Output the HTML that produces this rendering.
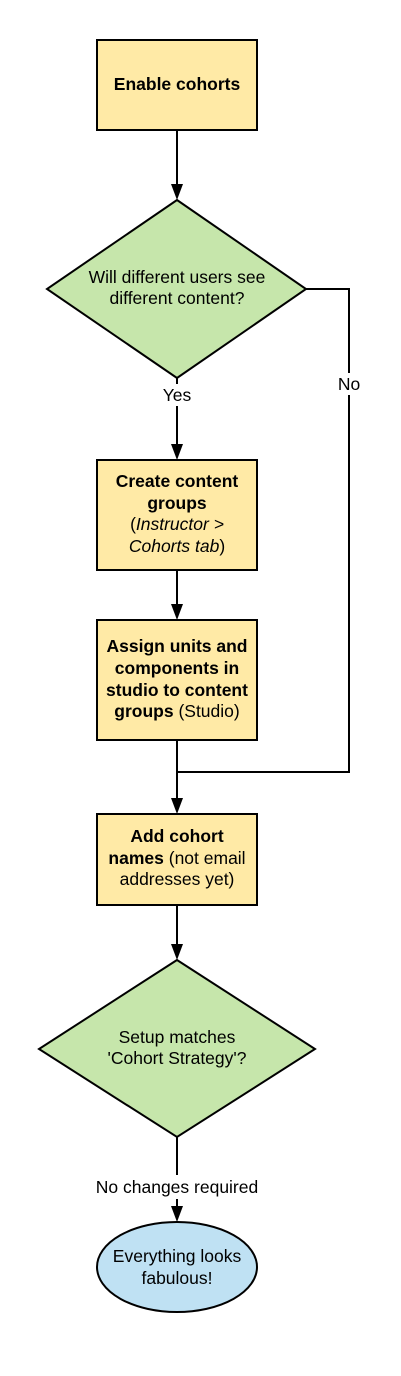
<!DOCTYPE html>
<html><head><meta charset="utf-8"><style>
html,body{margin:0;padding:0;background:#fff;}
svg{display:block;font-family:"Liberation Sans",Arial,sans-serif;}
</style></head><body>
<svg width="401" height="1376" viewBox="0 0 401 1376" xmlns="http://www.w3.org/2000/svg">
<g stroke="#000" stroke-width="2" fill="none">
<line x1="177" y1="130" x2="177" y2="186"/>
<line x1="177" y1="378" x2="177" y2="446"/>
<line x1="177" y1="570" x2="177" y2="606"/>
<line x1="177" y1="740" x2="177" y2="800"/>
<polyline points="306,289 349,289 349,772 177,772"/>
<line x1="177" y1="905" x2="177" y2="946"/>
<line x1="177" y1="1137" x2="177" y2="1208"/>
</g>
<g fill="#000">
<path d="M171,184 L183,184 L177,200 Z"/>
<path d="M171,444 L183,444 L177,460 Z"/>
<path d="M171,604 L183,604 L177,620 Z"/>
<path d="M171,798 L183,798 L177,814 Z"/>
<path d="M171,944 L183,944 L177,960 Z"/>
<path d="M171,1206 L183,1206 L177,1222 Z"/>
</g>
<g stroke="#000" stroke-width="2">
<rect x="97" y="40" width="160" height="90" fill="#ffeaa6"/>
<polygon points="177,200 306,289 177,378 47,289" fill="#c6e6ab"/>
<rect x="97" y="460" width="160" height="110" fill="#ffeaa6"/>
<rect x="97" y="620" width="160" height="120" fill="#ffeaa6"/>
<rect x="97" y="814" width="160" height="91" fill="#ffeaa6"/>
<polygon points="177,960 315,1049 177,1137 39,1049" fill="#c6e6ab"/>
<ellipse cx="177" cy="1267" rx="80" ry="45" fill="#bfe1f3"/>
</g>
<rect x="158" y="384" width="38" height="22" fill="#fff"/>
<rect x="334" y="373" width="30" height="22" fill="#fff"/>
<rect x="88" y="1175" width="178" height="24" fill="#fff"/>
<g text-anchor="middle" font-size="17.5" fill="#000">
<text x="177" y="90" font-weight="bold">Enable cohorts</text>
<text x="177" y="283">Will different users see</text>
<text x="177" y="304">different content?</text>
<text x="177" y="401">Yes</text>
<text x="349" y="390">No</text>
<text x="177" y="487" font-weight="bold">Create content</text>
<text x="177" y="509" font-weight="bold">groups</text>
<text x="177" y="530">(<tspan font-style="italic">Instructor &gt;</tspan></text>
<text x="177" y="552"><tspan font-style="italic">Cohorts tab</tspan>)</text>
<text x="177" y="652" font-weight="bold">Assign units and</text>
<text x="177" y="674" font-weight="bold">components in</text>
<text x="177" y="696" font-weight="bold">studio to content</text>
<text x="177" y="717"><tspan font-weight="bold">groups</tspan> (Studio)</text>
<text x="177" y="842" font-weight="bold">Add cohort</text>
<text x="177" y="864"><tspan font-weight="bold">names</tspan> (not email</text>
<text x="177" y="885">addresses yet)</text>
<text x="177" y="1043">Setup matches</text>
<text x="177" y="1064">'Cohort Strategy'?</text>
<text x="177" y="1193">No changes required</text>
<text x="177" y="1262">Everything looks</text>
<text x="177" y="1284">fabulous!</text>
</g>
</svg>
</body></html>
